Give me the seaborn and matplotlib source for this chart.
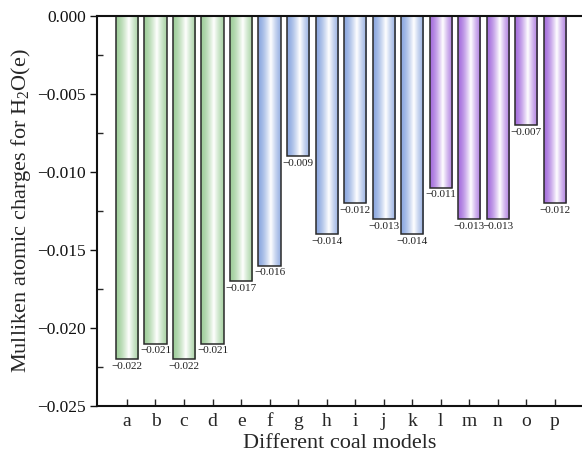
import numpy as np
import pandas as pd
import matplotlib
matplotlib.use("Agg")
import matplotlib.pyplot as plt
import matplotlib.colors as mcolors
from matplotlib.ticker import MultipleLocator
import seaborn as sns

models = list("abcdefghijklmnop")
charges = [-0.022, -0.021, -0.022, -0.021, -0.017,
           -0.016, -0.009, -0.014, -0.012, -0.013, -0.014,
           -0.011, -0.013, -0.013, -0.007, -0.012]
groups = ["g1"] * 5 + ["g2"] * 6 + ["g3"] * 5
group_colors = {"g1": "#9bd895", "g2": "#82a6ee", "g3": "#a862f0"}

sns.set_theme(style="ticks")
plt.rcParams["font.family"] = ["Liberation Serif", "DejaVu Serif"]
plt.rcParams["mathtext.fontset"] = "custom"
plt.rcParams["mathtext.rm"] = "Liberation Serif"

df = pd.DataFrame({"model": models, "charge": charges, "group": groups})

fig = plt.figure(figsize=(5.82, 4.58), dpi=100)
ax = fig.add_axes([97 / 582, 52 / 458, 1 - 97 / 582, (406 - 16) / 458])

sns.barplot(data=df, x="model", y="charge", hue="group", palette=group_colors,
            dodge=False, width=0.78, legend=False, ax=ax,
            edgecolor="#2a2a2a", linewidth=1.1)

# cylindrical gradient fill
ngrad = 256
t = np.linspace(0, 1, ngrad)
mix = np.clip(1 - np.abs(t - 0.56) / 0.52, 0, 1) ** 1.4
for patch in ax.patches:
    h = patch.get_height()
    if h == 0 or np.isnan(h):
        continue
    x0 = patch.get_x()
    w = patch.get_width()
    y0 = patch.get_y()
    base = np.array(mcolors.to_rgb(patch.get_facecolor()))
    rgb = base[None, :] + (1 - base[None, :]) * mix[:, None]
    img = rgb[None, :, :]
    im = ax.imshow(img, extent=[x0, x0 + w, y0, y0 + h], aspect="auto",
                   origin="lower", zorder=patch.get_zorder() - 0.1,
                   interpolation="bilinear")
    im.set_clip_path(patch)
    patch.set_facecolor("none")

for i, v in enumerate(charges):
    ax.annotate(f"{v:.3f}".replace("-", "\u2212"), xy=(i, v), xytext=(0, -2),
                textcoords="offset points", ha="center", va="top", fontsize=8,
                color="#222222")

ax.set_xlim(-1.05, 15.95)
ax.set_ylim(-0.025, 0.0)
ax.yaxis.set_major_locator(MultipleLocator(0.005))
ax.yaxis.set_minor_locator(MultipleLocator(0.0025))
ax.yaxis.set_major_formatter(matplotlib.ticker.FuncFormatter(
    lambda v, p: f"{v:.3f}".replace("-", "\u2212") if abs(v) > 1e-12 else "0.000"))

ax.tick_params(axis="y", which="major", direction="out", length=5, width=1,
               labelsize=12.5, colors="#111111", pad=3)
ax.tick_params(axis="y", which="minor", direction="in", length=4, width=1)
ax.tick_params(axis="x", which="major", direction="in", length=5, width=1,
               labelsize=14, pad=5)

for s in ["left", "bottom", "top"]:
    ax.spines[s].set_linewidth(1.5)
    ax.spines[s].set_color("#111111")
ax.spines["right"].set_visible(False)

ax.set_xlabel("Different coal models", fontsize=16, labelpad=3)
ax.set_ylabel("Mulliken atomic charges for H$_2$O(e)", fontsize=16, labelpad=3)

fig.savefig("out.png", dpi=100)
